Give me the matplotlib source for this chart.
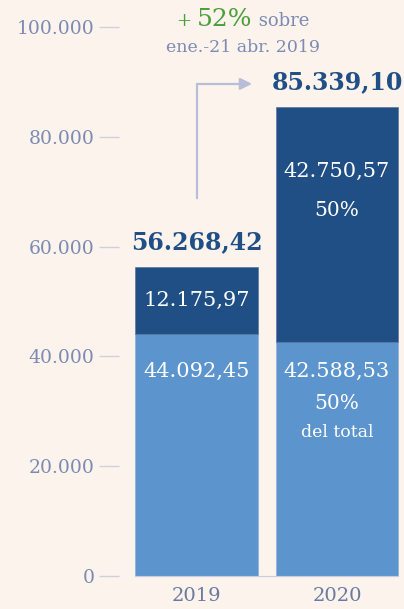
import matplotlib.pyplot as plt
from matplotlib.offsetbox import TextArea, HPacker, AnnotationBbox

# datos: importes por periodo (miles)
years = ['2019', '2020']
base = [44092.45, 42588.53]
extra = [12175.97, 42750.57]
totals = [56268.42, 85339.10]
base_labels = ['44.092,45', '42.588,53']
extra_labels = ['12.175,97', '42.750,57']
total_labels = ['56.268,42', '85.339,10']
yticks = [0, 20000, 40000, 60000, 80000, 100000]
ytick_labels = ['0', '20.000', '40.000', '60.000', '80.000', '100.000']

bg = '#fcf3ed'
light = '#5c95cd'
dark = '#1f4f85'
grey = '#7c8bb2'
green = '#4c9f3d'
line_c = '#b8bdd8'

plt.rcParams['font.family'] = 'DejaVu Serif'

fig = plt.figure(figsize=(4.04, 6.09), dpi=100, facecolor=bg)
ax = fig.add_axes([119/404, 1 - 576/609, 285/404, (576 - 27)/609])
ax.set_facecolor(bg)

x = [0, 1]
w = 0.875
ax.bar(x, base, width=w, color=light, edgecolor='#8fb0d8', lw=0.5)
ax.bar(x, extra, bottom=base, width=w, color=dark, edgecolor='#5a78a0', lw=0.5)

ax.set_xlim(-0.552, 1.477)
ax.set_ylim(0, 100000)

for s in ['top', 'right', 'left']:
    ax.spines[s].set_visible(False)
ax.spines['bottom'].set_color('#c9cce0')
ax.spines['bottom'].set_bounds(-w/2, 1 + w/2)

ax.set_yticks(yticks)
ax.set_yticklabels(ytick_labels)
ax.tick_params(axis='y', length=14.5, width=1.0, color='#d0d0dc', pad=3,
               labelsize=13.5, labelcolor=grey)
ax.set_xticks(x)
ax.set_xticklabels(years)
ax.tick_params(axis='x', length=0, pad=8, labelsize=14, labelcolor='#6a7aa0')

# totales
for i in range(2):
    ax.annotate(total_labels[i], (x[i], totals[i]), xytext=(0, 13),
                textcoords='offset points', ha='center', va='baseline',
                fontsize=17, fontweight='bold', color=dark)

# etiquetas internas
lab_y = min(base) - 5400
for i in range(2):
    ax.text(x[i], lab_y, base_labels[i], ha='center', va='center',
            fontsize=15, color='white')
ax.annotate('50%', (x[1], lab_y), xytext=(0, -23), textcoords='offset points',
            ha='center', va='center', fontsize=14.5, color='white')
ax.annotate('del total', (x[1], lab_y), xytext=(0, -44), textcoords='offset points',
            ha='center', va='center', fontsize=12.5, color='white')

ax.text(x[0], base[0] + extra[0] / 2, extra_labels[0], ha='center', va='center',
        fontsize=15, color='white')
ax.annotate(extra_labels[1], (x[1], totals[1]), xytext=(0, -46),
            textcoords='offset points', ha='center', va='center',
            fontsize=15, color='white')
ax.annotate('50%', (x[1], totals[1]), xytext=(0, -74),
            textcoords='offset points', ha='center', va='center',
            fontsize=14.5, color='white')

# flecha de crecimiento
y0 = totals[0] + 12500
y1 = totals[1] + 4300
ax.plot([0, 0, 0.33], [y0, y1, y1], color=line_c, lw=1.6, clip_on=False,
        solid_joinstyle='miter')
ax.annotate('', xy=(0.395, y1), xytext=(0.32, y1),
            arrowprops=dict(arrowstyle='-|>,head_length=0.7,head_width=0.35',
                            color=line_c, lw=1.6, shrinkA=0, shrinkB=0),
            annotation_clip=False)

# texto de variación
parts = HPacker(children=[
    TextArea('+ ', textprops=dict(color=green, fontsize=13)),
    TextArea('52%', textprops=dict(color=green, fontsize=18)),
    TextArea(' sobre', textprops=dict(color=grey, fontsize=13)),
], align='baseline', pad=0, sep=0)
ab = AnnotationBbox(parts, (0.33, 101300), frameon=False, box_alignment=(0.5, 0.5),
                    annotation_clip=False)
ax.add_artist(ab)
ax.text(0.33, 96200, 'ene.-21 abr. 2019', ha='center', va='center',
        fontsize=12.5, color=grey, clip_on=False)

fig.savefig('out.png', dpi=100, facecolor=bg)
